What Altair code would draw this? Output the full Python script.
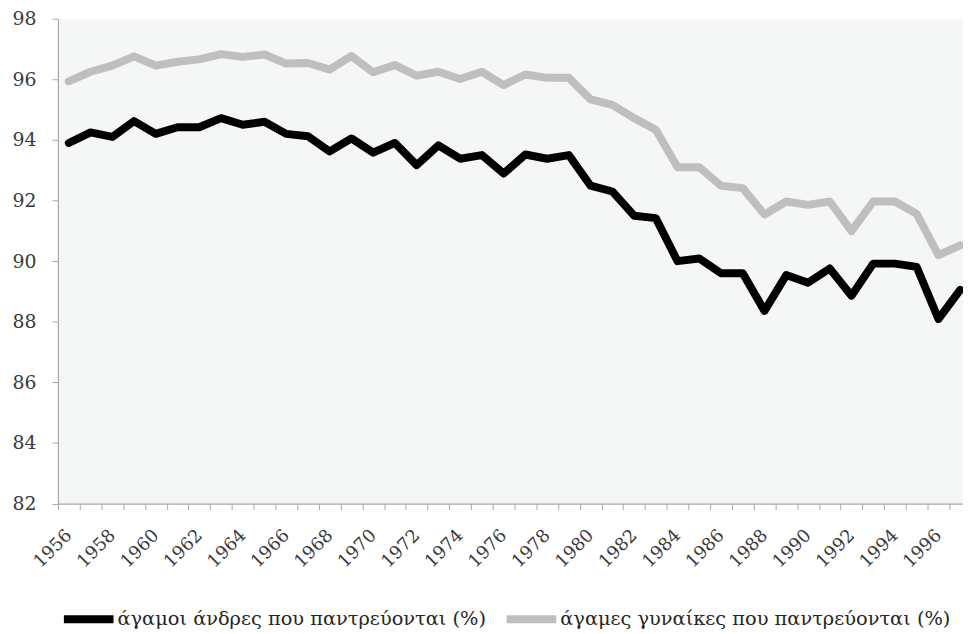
import altair as alt
import pandas as pd

years = list(range(1956, 1998))
men = [93.9, 94.25, 94.1, 94.62, 94.2, 94.42, 94.42, 94.72, 94.5, 94.6,
       94.2, 94.12, 93.62, 94.05, 93.58, 93.9, 93.17, 93.82, 93.38, 93.5,
       92.89, 93.52, 93.38, 93.5, 92.49, 92.3, 91.5, 91.42, 90.0, 90.09,
       89.6, 89.6, 88.36, 89.54, 89.29, 89.76, 88.86, 89.92, 89.92, 89.81,
       88.09, 89.05]
women = [95.93, 96.25, 96.45, 96.76, 96.45, 96.58, 96.66, 96.83, 96.74, 96.82,
         96.52, 96.54, 96.32, 96.77, 96.23, 96.47, 96.12, 96.25, 96.01, 96.25,
         95.81, 96.16, 96.05, 96.05, 95.34, 95.16, 94.72, 94.34, 93.1, 93.1,
         92.49, 92.41, 91.54, 91.97, 91.86, 91.97, 90.99, 91.97, 91.97, 91.56,
         90.2, 90.52]
series_names = ["άγαμοι άνδρες που παντρεύονται (%)",
                "άγαμες γυναίκες που παντρεύονται (%)"]
series_colors = ["#000000", "#bfbfbf"]
y_ticks = list(range(82, 99, 2))
x_label_years = list(range(1956, 1998, 2))
x_tick_bounds = [y - 0.5 for y in years]

df = pd.DataFrame({
    "year": years + years,
    "value": men + women,
    "series": [series_names[0]] * len(years) + [series_names[1]] * len(years),
})

FONT = "DejaVu Serif"
AXIS_GRAY = "#a8a8a8"
LABEL_COLOR = "#3a3a3a"

xscale = alt.Scale(domain=[1955.5, 1997.13], nice=False, zero=False)
yscale = alt.Scale(domain=[82, 98], nice=False, zero=False)

lines = alt.Chart(df).mark_line(
    strokeWidth=8, strokeCap="round", strokeJoin="round", clip=True
).encode(
    x=alt.X("year:Q", scale=xscale,
            axis=alt.Axis(values=x_tick_bounds, labels=False, ticks=True,
                          tickSize=6, tickColor=AXIS_GRAY, domain=True,
                          domainColor=AXIS_GRAY, domainWidth=1.2, grid=False,
                          orient="bottom", title=None)),
    y=alt.Y("value:Q", scale=yscale,
            axis=alt.Axis(values=y_ticks, tickSize=6, tickColor=AXIS_GRAY,
                          domainColor=AXIS_GRAY, domainWidth=1.2, grid=False,
                          labelFont=FONT, labelFontSize=19,
                          labelColor=LABEL_COLOR, labelPadding=16,
                          orient="left", title=None)),
    color=alt.Color("series:N",
                    scale=alt.Scale(domain=series_names, range=series_colors),
                    sort=series_names,
                    legend=alt.Legend(orient="none", legendX=2, legendY=576,
                                      direction="horizontal", title=None,
                                      symbolType="stroke", symbolSize=2500,
                                      symbolStrokeWidth=8, labelFont=FONT,
                                      labelFontSize=19.5, labelColor="#262626",
                                      labelLimit=600, labelOffset=0,
                                      gridAlign="none",
                                      columnPadding=4, padding=0)),
)

label_axis = alt.Chart(df).mark_point(opacity=0).encode(
    x=alt.X("year:Q", scale=xscale,
            axis=alt.Axis(values=x_label_years, ticks=False, tickSize=0,
                          domain=False, grid=False, labelAngle=315,
                          labelAlign="right", labelBaseline="middle",
                          labelPadding=29, labelFont=FONT, labelFontSize=18,
                          labelColor=LABEL_COLOR, labelOverlap=False,
                          format="d", orient="bottom", title=None)),
)

chart = alt.layer(lines, label_axis).resolve_axis(x="independent").properties(
    width=911.7, height=488.5,
    padding={"left": 50.3, "top": 8.5, "right": 0, "bottom": 127},
    autosize=alt.AutoSizeParams(type="none"),
).configure_view(fill="#f5f7f7", stroke=None)

chart.save("out.html", embed_options={"renderer": "svg", "actions": False})
